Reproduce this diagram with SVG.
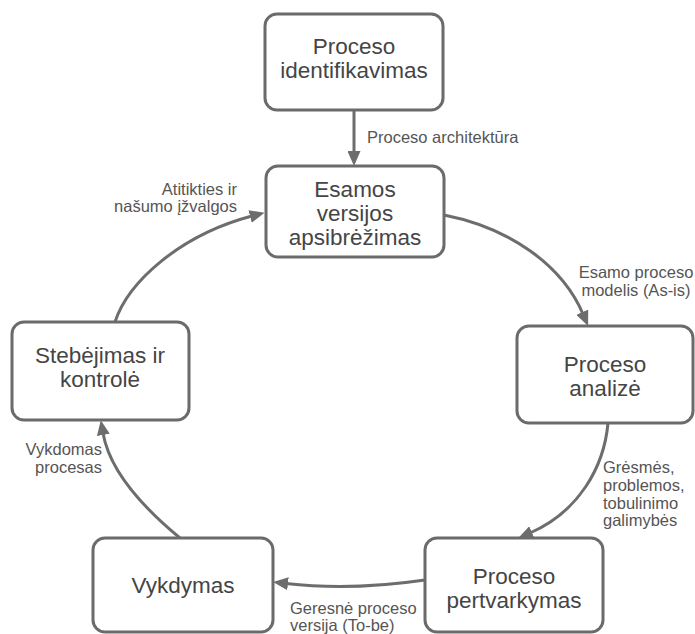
<svg xmlns="http://www.w3.org/2000/svg" width="695" height="634" viewBox="0 0 695 634">
  <style>
    .box { fill: #ffffff; stroke: #6b6b6b; stroke-width: 3; }
    .node-text { font-family: "Liberation Sans", Arial, sans-serif; font-size: 22.5px; fill: #454545; text-anchor: middle; }
    .edge { fill: none; stroke: #6d6d6d; stroke-width: 3; }
    .label { font-family: "Liberation Sans", Arial, sans-serif; font-size: 16.5px; fill: #555555; }
  </style>
  <defs>
    <marker id="arrow" markerUnits="userSpaceOnUse" markerWidth="15" markerHeight="13" viewBox="0 0 15 13" refX="2" refY="6.5" orient="auto">
      <path d="M0,0 L15,6.5 L0,13 z" fill="#6d6d6d"/>
    </marker>
  </defs>
  <rect width="695" height="634" fill="#ffffff"/>

  <!-- connectors -->
  <g id="connectors">
    <path class="edge" d="M354,110 L354,153" marker-end="url(#arrow)"/>
    <path class="edge" d="M444,215 C510,228 562,265 583,314" marker-end="url(#arrow)"/>
    <path class="edge" d="M608,423 C604,468 578,512 530,533" marker-end="url(#arrow)"/>
    <path class="edge" d="M425,580 Q350,591 286,583.5" marker-end="url(#arrow)"/>
    <path class="edge" d="M180,538 C140,505 109,468 103,433" marker-end="url(#arrow)"/>
    <path class="edge" d="M115,322 C128,282 180,235 252,216" marker-end="url(#arrow)"/>

    <text class="label" x="367" y="143">Proceso architektūra</text>
    <text class="label" text-anchor="middle" x="636" y="278">Esamo proceso</text>
    <text class="label" text-anchor="middle" x="636" y="296">modelis (As-is)</text>
    <text class="label" x="603" y="473">Grėsmės,</text>
    <text class="label" x="603" y="491">problemos,</text>
    <text class="label" x="603" y="509">tobulinimo</text>
    <text class="label" x="603" y="526">galimybės</text>
    <text class="label" x="290" y="614">Geresnė proceso</text>
    <text class="label" x="290" y="631">versija (To-be)</text>
    <text class="label" text-anchor="end" x="102" y="455">Vykdomas</text>
    <text class="label" text-anchor="end" x="102" y="473">procesas</text>
    <text class="label" text-anchor="end" x="237" y="195">Atitikties ir</text>
    <text class="label" text-anchor="end" x="237" y="212">našumo įžvalgos</text>
  </g>

  <!-- nodes -->
  <g id="identifikavimas">
    <rect class="box" x="265" y="14" width="178" height="96" rx="12"/>
    <text class="node-text" x="354" y="54">Proceso</text>
    <text class="node-text" x="354" y="78">identifikavimas</text>
  </g>
  <g id="apsibrezimas">
    <rect class="box" x="266" y="166" width="178" height="91" rx="12"/>
    <text class="node-text" x="355" y="197">Esamos</text>
    <text class="node-text" x="355" y="221">versijos</text>
    <text class="node-text" x="355" y="245">apsibrėžimas</text>
  </g>
  <g id="analize">
    <rect class="box" x="517" y="326" width="176" height="97" rx="12"/>
    <text class="node-text" x="605" y="372">Proceso</text>
    <text class="node-text" x="605" y="396">analizė</text>
  </g>
  <g id="pertvarkymas">
    <rect class="box" x="425" y="538" width="178" height="94" rx="12"/>
    <text class="node-text" x="514" y="584">Proceso</text>
    <text class="node-text" x="514" y="608">pertvarkymas</text>
  </g>
  <g id="vykdymas">
    <rect class="box" x="93" y="538" width="180" height="94" rx="12"/>
    <text class="node-text" x="183" y="593">Vykdymas</text>
  </g>
  <g id="stebejimas">
    <rect class="box" x="12" y="322" width="177" height="98" rx="12"/>
    <text class="node-text" x="100" y="363">Stebėjimas ir</text>
    <text class="node-text" x="100" y="387">kontrolė</text>
  </g>
</svg>
